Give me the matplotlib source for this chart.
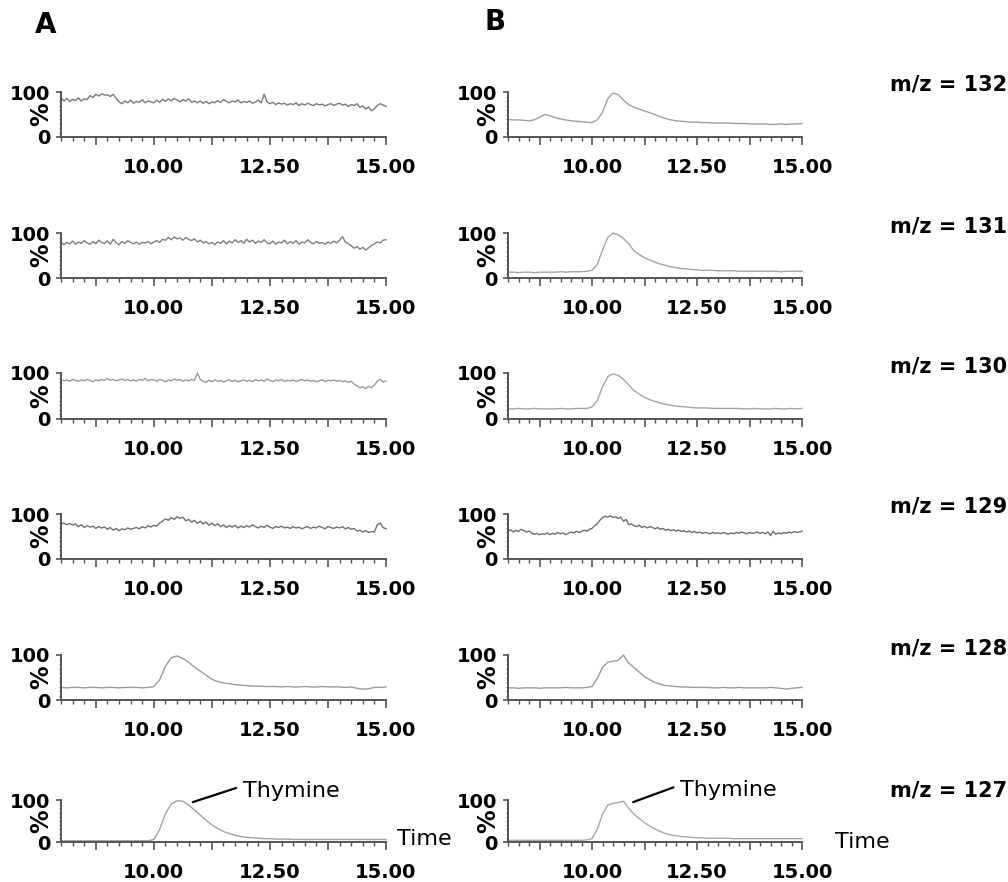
import numpy as np
import matplotlib
matplotlib.use('Agg')
import matplotlib.pyplot as plt
from matplotlib.ticker import FixedLocator, MultipleLocator

# ---------------- data ----------------
t_fine = np.arange(8.0, 15.0001, 0.0625)    # noisy traces
t_coarse = np.arange(8.0, 15.0001, 0.125)   # smooth traces

a132 = [88, 80, 86, 79, 84, 81, 87, 80, 85, 83, 92, 88, 95, 91, 96, 93,
        94, 90, 95, 86, 78, 74, 80, 76, 82, 75, 79, 77, 83, 76, 80, 78,
        76, 82, 77, 84, 79, 85, 80, 86, 82, 78, 83, 80, 85, 77, 80, 76,
        80, 75, 79, 74, 78, 76, 81, 77, 83, 79, 76, 80, 78, 82, 76, 79,
        77, 80, 75, 78, 82, 76, 95, 78, 74, 77, 72, 76, 73, 75, 71, 74,
        72, 76, 70, 74, 71, 75, 72, 70, 74, 71, 73, 69, 72, 74, 70, 73,
        75, 71, 73, 68, 72, 70, 74, 66, 69, 62, 67, 58, 63, 70, 74, 71,
        68]
a131 = [80, 74, 79, 76, 82, 75, 80, 77, 83, 78, 75, 81, 76, 84, 79, 77,
        82, 75, 86, 78, 74, 81, 77, 83, 79, 76, 80, 75, 79, 78, 81, 76,
        80, 83, 79, 86, 84, 90, 85, 91, 87, 89, 84, 90, 86, 83, 87, 80,
        84, 78, 81, 76, 79, 74, 80, 77, 83, 76, 82, 78, 85, 79, 83, 77,
        86, 80, 84, 77, 82, 79, 85, 78, 76, 82, 75, 80, 78, 84, 76, 81,
        77, 83, 75, 80, 78, 85, 79, 76, 81, 77, 79, 75, 80, 77, 82, 78,
        84, 92, 80, 76, 72, 66, 70, 64, 68, 62, 67, 72, 76, 80, 78, 84,
        85]
a130 = [86, 83, 85, 82, 86, 84, 82, 85, 83, 86, 84, 81, 85, 83, 86, 84,
        88, 84, 86, 83, 85, 87, 84, 86, 83, 85, 82, 86, 84, 88, 83, 86,
        85, 82, 86, 84, 81, 85, 83, 87, 84, 86, 82, 85, 83, 86, 84, 100,
        86, 82, 80, 84, 81, 85, 82, 84, 80, 83, 85, 82, 84, 81, 83, 85,
        82, 84, 81, 86, 83, 85, 82, 87, 84, 81, 85, 83, 86, 82, 84, 83,
        85, 82, 84, 86, 83, 85, 82, 84, 81, 83, 85, 82, 84, 83, 85, 82,
        84, 81, 83, 80, 82, 76, 72, 68, 70, 66, 71, 68, 74, 82, 86, 80,
        83]
a129 = [78, 80, 76, 79, 75, 78, 72, 76, 70, 74, 71, 73, 68, 72, 69, 71,
        66, 70, 64, 68, 63, 67, 65, 69, 66, 68, 70, 67, 72, 69, 74, 71,
        75, 73, 80, 84, 89, 86, 92, 88, 94, 90, 93, 85, 88, 82, 86, 79,
        84, 78, 82, 75, 80, 74, 78, 72, 76, 70, 74, 71, 75, 69, 73, 70,
        74, 71, 76, 72, 69, 73, 70, 75, 71, 68, 72, 70, 73, 69, 71, 68,
        72, 69, 71, 67, 70, 72, 68, 71, 69, 73, 70, 67, 72, 70, 68, 71,
        69, 72, 67, 70, 66, 68, 62, 64, 60, 63, 59, 61, 60, 76, 80, 70,
        67]
b129 = [62, 65, 60, 64, 61, 66, 63, 60, 62, 58, 55, 57, 54, 56, 55, 58,
        54, 57, 55, 59, 56, 58, 54, 57, 60, 58, 62, 59, 61, 64, 62, 66,
        68, 74, 78, 86, 92, 95, 93, 96, 92, 94, 90, 93, 84, 88, 76, 78,
        74, 72, 75, 70, 73, 69, 72, 70, 67, 70, 66, 68, 64, 66, 63, 65,
        62, 64, 61, 63, 60, 62, 59, 61, 58, 60, 57, 59, 58, 56, 59, 57,
        58, 56, 59, 57, 55, 58, 56, 59, 57, 60, 58, 56, 59, 57, 58, 60,
        57, 59, 56, 60, 52, 62, 55, 58, 56, 59, 57, 60, 58, 61, 59, 60,
        62]

b132 = [39, 38, 38, 37, 36, 38, 44, 50,
        47, 43, 40, 38, 36, 35, 34, 33,
        32, 38, 55, 85, 98, 94, 82, 72,
        66, 62, 58, 54, 50, 45, 41, 38,
        36, 35, 34, 33, 33, 32, 32, 31,
        31, 31, 31, 30, 30, 30, 29, 29,
        29, 29, 28, 28, 29, 28, 29, 29,
        30]
b131 = [13, 13, 12, 13, 13, 12, 13, 13,
        13, 13, 14, 13, 14, 14, 14, 15,
        17, 30, 62, 90, 100, 96, 88, 76,
        60, 52, 45, 40, 35, 31, 28, 25,
        23, 21, 20, 19, 18, 17, 17, 17,
        16, 16, 16, 16, 15, 15, 15, 15,
        15, 15, 15, 15, 14, 15, 15, 15,
        15]
b130 = [22, 22, 23, 22, 22, 23, 22, 22,
        22, 22, 23, 22, 22, 23, 23, 23,
        26, 40, 70, 92, 98, 95, 86, 74,
        62, 54, 47, 42, 38, 35, 32, 30,
        28, 27, 26, 25, 24, 24, 24, 23,
        23, 23, 23, 23, 23, 22, 22, 23,
        22, 22, 22, 23, 22, 22, 23, 22,
        23]
a128 = [28, 27, 28, 28, 27, 28, 28, 27,
        28, 28, 27, 28, 28, 28, 27, 28,
        30, 45, 75, 94, 98, 92, 84, 73,
        64, 55, 46, 41, 38, 36, 34, 33,
        32, 31, 31, 30, 30, 30, 29, 30,
        29, 29, 30, 29, 29, 30, 29, 29,
        29, 28, 29, 26, 24, 25, 28, 28,
        29]
b128 = [27, 27, 26, 27, 27, 27, 26, 27,
        27, 27, 27, 28, 27, 27, 27, 28,
        30, 48, 72, 84, 86, 88, 100, 82,
        72, 62, 52, 45, 39, 35, 32, 31,
        30, 29, 29, 28, 28, 28, 28, 27,
        27, 28, 27, 27, 28, 27, 27, 27,
        27, 27, 28, 27, 26, 24, 26, 27,
        28]
a127 = [3, 3, 3, 3, 3, 3, 3, 3,
        3, 3, 3, 3, 3, 3, 3, 3,
        6, 30, 68, 90, 98, 97, 88, 76,
        64, 52, 41, 32, 25, 20, 16, 13,
        11, 10, 9, 8, 8, 7, 7, 7,
        6, 6, 6, 6, 6, 6, 6, 6,
        6, 6, 6, 6, 6, 6, 6, 6,
        6]
b127 = [4, 4, 4, 4, 4, 4, 4, 4,
        4, 4, 4, 4, 4, 4, 4, 5,
        8, 30, 66, 88, 92, 94, 97, 80,
        66, 56, 46, 38, 31, 25, 20, 17,
        15, 13, 12, 11, 10, 10, 9, 9,
        9, 9, 9, 8, 8, 8, 8, 8,
        8, 8, 8, 8, 8, 8, 8, 8,
        8]

mz_labels = ['m/z = 132', 'm/z = 131', 'm/z = 130',
             'm/z = 129', 'm/z = 128', 'm/z = 127']
x_major = [8.75, 10.0, 11.25, 12.5, 13.75, 15.0]
x_major_labels = ['', '10.00', '', '12.50', '', '15.00']
y_ticks = [0, 100]
y_tick_labels = ['0', '100']

col_a = [(t_fine, a132), (t_fine, a131), (t_fine, a130),
         (t_fine, a129), (t_coarse, a128), (t_coarse, a127)]
col_b = [(t_coarse, b132), (t_coarse, b131), (t_coarse, b130),
         (t_fine, b129), (t_coarse, b128), (t_coarse, b127)]

# ---------------- layout (pixels) ----------------
W, H = 1008, 882
fig = plt.figure(figsize=(W / 100, H / 100), dpi=100)

row_top = [92, 233, 373, 514, 655, 800]
row_bot = [137, 278, 419, 559, 700, 842]
col_x = [(61, 386), (508, 802)]
trace_colors = [['#7a7a7a', '#7f7f7f', '#9a9a9a', '#6f6f6f', '#9c9c9c', '#a3a3a3'],
                ['#a0a0a0', '#a5a5a5', '#a5a5a5', '#6f6f6f', '#9c9c9c', '#a8a8a8']]

axes = {}
for c, col in enumerate([col_a, col_b]):
    x0, x1 = col_x[c]
    for r, (tt, yy) in enumerate(col):
        ax = fig.add_axes([x0 / W, 1 - row_bot[r] / H, (x1 - x0) / W,
                           (row_bot[r] - row_top[r]) / H])
        ax.plot(tt, yy, color=trace_colors[c][r], lw=1.0, clip_on=False)
        ax.set_xlim(8.0, 15.0)
        ax.set_ylim(0, 100)
        for s in ['top', 'right']:
            ax.spines[s].set_visible(False)
        for s in ['left', 'bottom']:
            ax.spines[s].set_color('#555555')
            ax.spines[s].set_linewidth(1.4)
        ax.xaxis.set_major_locator(FixedLocator(x_major))
        ax.set_xticklabels(x_major_labels, fontweight='bold')
        ax.xaxis.set_minor_locator(MultipleLocator(0.25))
        ax.yaxis.set_major_locator(FixedLocator(y_ticks))
        ax.set_yticklabels(y_tick_labels, fontweight='bold')
        ax.yaxis.set_minor_locator(MultipleLocator(10))
        ax.tick_params(axis='x', which='major', direction='out', length=6,
                       width=1.2, color='#555555', pad=9, labelsize=14)
        ax.tick_params(axis='x', which='minor', direction='out', length=3,
                       width=1.0, color='#555555')
        ax.tick_params(axis='y', which='major', direction='out', length=3.5,
                       width=1.2, color='#555555', pad=4, labelsize=14)
        ax.tick_params(axis='y', which='minor', direction='out', length=1.5,
                       width=0.8, color='#777777')
        ax.annotate('%', xy=(0, 0.5), xycoords='axes fraction',
                    xytext=(-14, 0), textcoords='offset points',
                    rotation=90, ha='center', va='center', fontsize=17,
                    fontweight='bold')
        axes[(c, r)] = ax

# m/z labels
mz_y = [85, 226, 366, 507, 648, 790]
for lab, yy in zip(mz_labels, mz_y):
    fig.text(890 / W, 1 - yy / H, lab, ha='left', va='center',
             fontsize=15, fontweight='bold')

# panel letters
fig.text(46 / W, 1 - 25 / H, 'A', ha='center', va='center',
         fontsize=20, fontweight='bold')
fig.text(495 / W, 1 - 22 / H, 'B', ha='center', va='center',
         fontsize=20, fontweight='bold')

# Thymine annotations and "Time" labels
axA, axB = axes[(0, 5)], axes[(1, 5)]
axA.annotate('Thymine', xy=(10.84, 95), xytext=(11.92, 122),
             ha='left', va='center', fontsize=16, annotation_clip=False,
             arrowprops=dict(arrowstyle='-', color='black', lw=1.6,
                             shrinkA=3, shrinkB=0, relpos=(0, 0.75)))
axB.annotate('Thymine', xy=(10.98, 95), xytext=(12.1, 124),
             ha='left', va='center', fontsize=16, annotation_clip=False,
             arrowprops=dict(arrowstyle='-', color='black', lw=1.6,
                             shrinkA=3, shrinkB=0, relpos=(0, 0.75)))
axA.annotate('Time', xy=(1, 0), xycoords='axes fraction', xytext=(8, 2),
             textcoords='offset points', ha='left', va='center', fontsize=16)
axB.annotate('Time', xy=(1, 0), xycoords='axes fraction', xytext=(24, 0),
             textcoords='offset points', ha='left', va='center', fontsize=16)

fig.savefig('out.png', dpi=100, facecolor='white')
